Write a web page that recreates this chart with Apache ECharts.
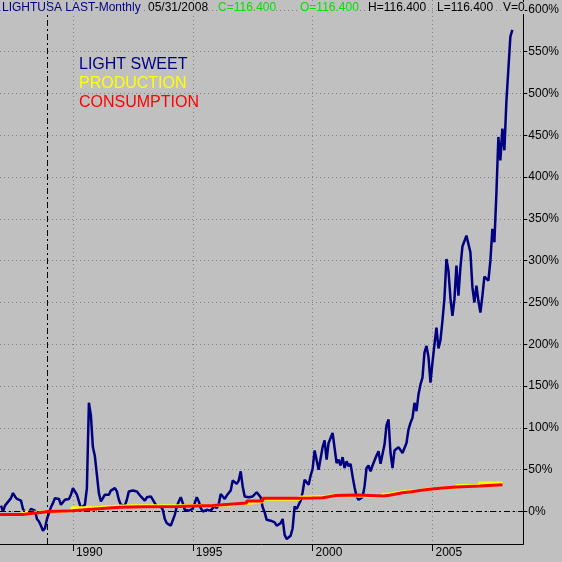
<!DOCTYPE html>
<html>
<head>
    <meta charset="utf-8">
    <title>LIGHTUSA LAST-Monthly</title>
    <script src="https://cdn.jsdelivr.net/npm/echarts@6/dist/echarts.min.js"></script>
</head>
<body>
<style>
    html, body, #main {
        width: 100%;
        height: 100%;
        padding: 0;
        margin: 0;
        background: #c0c0c0;
    }
</style>
<div id="main"></div>
<script type="text/javascript">
    // monthly % change, Jan 1987 .. May 2008
    var startYear = 1987;
    var lightSweet = [
        7, 0, 7, 10, 13, 16, 22, 18, 15, 15, 13, 3,
        -1, -2, -1, 3, 4, 1, -9, -12, -17, -23, -20, -9,
        -2, 5, 10, 16, 16, 15, 8, 8, 14, 15, 15, 20,
        28, 27, 20, 12, 4, 2, 8, 28, 130, 115, 77, 66,
        64, 22, 12, 14, 20, 20, 20, 25, 26, 28, 24, 14,
        8, 7, 7, 14, 24, 25, 25, 25, 24, 22, 18, 16,
        13, 17, 18, 18, 18, 10, 6, 6, 6, 2, -9, -14,
        -16, -17, -15, -4, 6, 12, 17, 10, 2, 3, 1, 1,
        3, 10, 17, 12, 4, 0, 2, 2, 1, 1, 3, 7,
        4, 9, 21, 22, 15, 19, 19, 25, 37, 35, 33, 37,
        48, 30, 18, 17, 17, 17, 18, 19, 23, 22, 17, 5,
        -1, -10, -11, -11, -11, -13, -17, -19, -14, -9, -28, -33,
        -31, -29, -20, 6, 3, 1, 13, 23, 38, 35, 32, 43,
        51, 73, 72, 50, 52, 77, 85, 62, 82, 80, 94, 92,
        58, 62, 55, 65, 52, 60, 54, 57, 42, 29, 18, 14,
        14, 17, 30, 52, 55, 48, 55, 61, 67, 72, 57, 58,
        80, 103, 110, 70, 52, 73, 74, 77, 75, 70, 72, 82,
        98, 106, 112, 130, 120, 140, 152, 160, 190, 198, 185, 154,
        178, 200, 220, 195, 205, 228, 255, 302, 288, 255, 234, 254,
        294, 258, 292, 317, 318, 330, 331, 310, 268, 250, 270, 252,
        238, 258, 281, 282, 276, 300, 338, 322, 380, 448, 420, 458,
        432, 490, 492, 568, 576
    ];

    var prodYears = [1986.96, 1987.92, 1988.29, 1988.58, 1988.96, 1989.96, 1990.92, 1991.96, 1992.92,
        1994.42, 1995.0, 1995.83, 1996.54, 1997.25, 1997.92, 1999.46, 1999.96, 2000.42, 2000.67,
        2000.96, 2001.83, 2002.92, 2003.21, 2003.42, 2003.75, 2004.13, 2004.46, 2004.88, 2005.42,
        2006.0, 2006.96, 2007.92];
    var prodValues = [-3.5, -1, -1, 0, 1, 4.5, 6.5, 7, 7,
        7.3, 7.5, 7.8, 9.5, 11.5, 14.5, 17.3, 18, 18.5, 19.5,
        18.5, 18, 20.5, 21.7, 23.5, 24.5, 25.5, 27, 28, 28.5,
        31, 34, 34];

    var consYears = prodYears;
    var consValues = [-3.5, -2.2, -1.5, 0, 1, 3, 5, 5.7, 6,
        6.7, 7.3, 8.6, 10, 12.5, 15.8, 16, 16.5, 17.7, 19,
        19.7, 18.5, 19.5, 20.5, 22.5, 23.7, 25, 26.5, 28, 29.3,
        30.5, 32, 32];

    var yearTicks = [1990, 1995, 2000, 2005];
    var pctTicks = [0, 50, 100, 150, 200, 250, 300, 350, 400, 450, 500, 550, 600];

    var blueData = lightSweet.map(function (v, i) {
        return [startYear + i / 12, v];
    });
    var prodData = prodYears.map(function (y, i) { return [y, prodValues[i]]; });
    var consData = consYears.map(function (y, i) { return [y, consValues[i]]; });

    var font = 'Liberation Sans, Arial, sans-serif';

    function txt(x, y, s, color, size) {
        return {
            type: 'text', left: x, top: y,
            style: {
                text: s, fill: color, font: size + 'px ' + font,
                backgroundColor: '#c0c0c0'
            },
            z: 100
        };
    }

    var myChart = echarts.init(document.getElementById('main'));

    myChart.setOption({
        animation: false,
        backgroundColor: '#c0c0c0',
        grid: {left: 0, right: 38, top: 0, bottom: 18},
        xAxis: {
            type: 'value',
            min: 1986.958,
            max: 2008.79,
            axisLine: {show: true, onZero: false, lineStyle: {color: '#000', width: 1}},
            axisTick: {show: true, customValues: yearTicks, length: 7, lineStyle: {color: '#000'}},
            axisLabel: {
                customValues: yearTicks, align: 'left', margin: 3, padding: [0, 0, 0, 3],
                color: '#000', fontSize: 12, fontFamily: font,
                formatter: function (v) { return String(v); }
            },
            splitLine: {show: true, lineStyle: {color: '#808080', type: [1, 3], width: 1}}
        },
        yAxis: {
            type: 'value',
            position: 'right',
            min: -38.9,
            max: 611.8,
            axisLine: {show: true, lineStyle: {color: '#000', width: 1}},
            axisTick: {show: true, customValues: pctTicks, length: 4, lineStyle: {color: '#000'}},
            axisLabel: {
                customValues: pctTicks, margin: 5, color: '#000', fontSize: 12, fontFamily: font,
                formatter: '{value}%'
            },
            splitLine: {show: true, lineStyle: {color: '#808080', type: [1, 3], width: 1}}
        },
        series: [
            {
                name: 'LIGHT SWEET',
                type: 'line',
                data: blueData,
                showSymbol: false,
                lineStyle: {color: '#000080', width: 2.5},
                z: 3,
                markLine: {
                    silent: true,
                    symbol: 'none',
                    label: {show: false},
                    lineStyle: {color: '#000', type: [6, 3, 2, 3], width: 1},
                    data: [{yAxis: 0}, {xAxis: 1988.946}]
                }
            },
            {
                name: 'PRODUCTION',
                type: 'line',
                step: 'end',
                data: prodData,
                showSymbol: false,
                lineStyle: {color: '#ffff00', width: 3},
                z: 4
            },
            {
                name: 'CONSUMPTION',
                type: 'line',
                step: 'end',
                data: consData,
                showSymbol: false,
                lineStyle: {color: '#ff0000', width: 3},
                z: 5
            }
        ],
        graphic: [
            txt(2, 2, 'LIGHTUSA LAST-Monthly', '#000080', 12),
            txt(148, 2, '05/31/2008', '#000', 12),
            txt(218, 2, 'C=116.400', '#00e000', 12),
            txt(300, 2, 'O=116.400', '#00e000', 12),
            txt(368, 2, 'H=116.400', '#000', 12),
            txt(437, 2, 'L=116.400', '#000', 12),
            txt(503, 2, 'V=0', '#000', 12),
            {type: 'text', left: 79, top: 57, style: {text: 'LIGHT SWEET', fill: '#000080', font: '16px ' + font}},
            {type: 'text', left: 79, top: 76, style: {text: 'PRODUCTION', fill: '#ffff00', font: '16px ' + font}},
            {type: 'text', left: 79, top: 95, style: {text: 'CONSUMPTION', fill: '#ff0000', font: '16px ' + font}}
        ]
    });
</script>
</body>
</html>
